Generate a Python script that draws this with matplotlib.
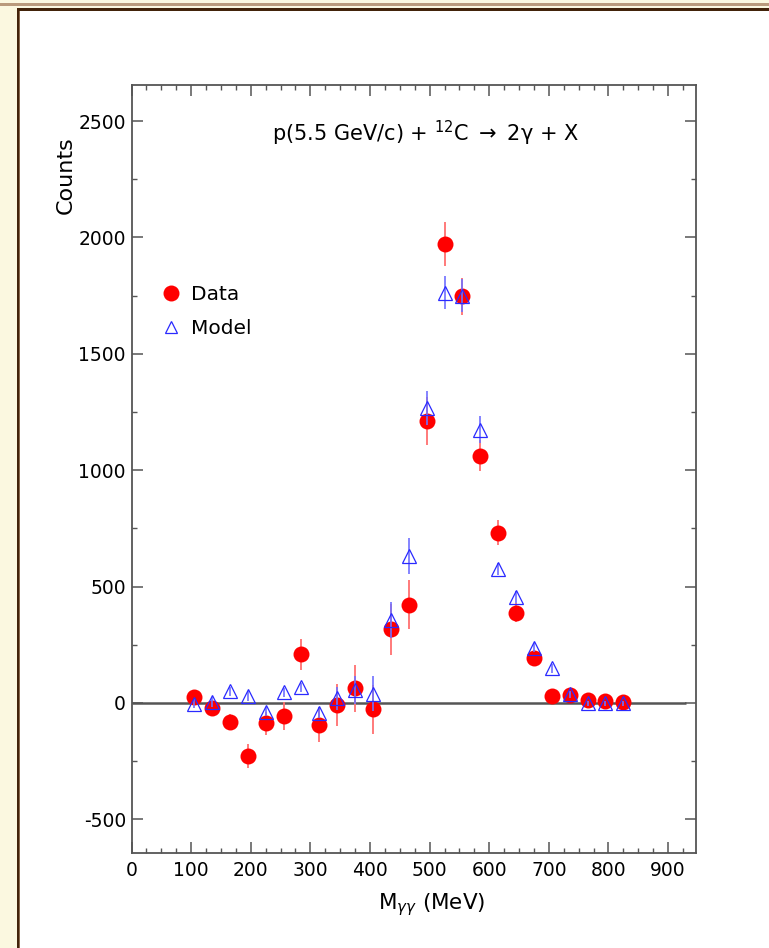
import matplotlib.pyplot as plt
from matplotlib.patches import Rectangle
from matplotlib.ticker import MultipleLocator

# invariant mass bins (MeV)
mass = [105, 135, 165, 195, 225, 255, 285, 315, 345, 375, 405, 435, 465,
        495, 525, 555, 585, 615, 645, 675, 705, 735, 765, 795, 825]

data_counts = [24, -23, -83, -228, -88, -55, 209, -95, -9, 63, -27, 317, 421,
               1212, 1972, 1747, 1062, 732, 388, 192, 31, 34, 13, 6, 3]
data_err = [30, 30, 35, 50, 50, 60, 66, 75, 90, 100, 105, 110, 105,
            103, 93, 80, 67, 53, 40, 30, 20, 20, 15, 15, 15]

model_counts = [-4, 4, 49, 30, -37, 46, 67, -42, 20, 56, 39, 356, 631,
                1267, 1763, 1750, 1174, 575, 454, 238, 149, 37, -2, -2, -2]
model_err = [20, 20, 20, 20, 20, 20, 20, 25, 50, 60, 75, 76, 76,
             75, 72, 70, 57, 25, 25, 20, 20, 15, 10, 10, 10]

plt.rcParams['font.family'] = 'DejaVu Sans'
plt.rcParams['mathtext.fontset'] = 'dejavusans'
plt.rcParams['axes.unicode_minus'] = False

W, H = 769, 948
fig = plt.figure(figsize=(W / 100, H / 100), dpi=100)


def px_rect(x0, y0, x1, y1, color):
    # rectangle given in pixel coords (origin top-left)
    fig.add_artist(Rectangle((x0 / W, 1 - y1 / H), (x1 - x0) / W, (y1 - y0) / H,
                             transform=fig.transFigure, color=color, lw=0, zorder=-10))


# page frame
px_rect(0, 0, W, H, '#fbf8e0')
px_rect(19, 11, W, H, 'white')
px_rect(0, 3, W, 6, '#b99a7c')
px_rect(17, 8, W, 11, '#42230a')
px_rect(17, 8, 19, H, '#42230a')
px_rect(19, 11, 20, H, '#8a6a4e')

ax = fig.add_axes([131.5 / W, 1 - 853 / H, 564 / W, 768 / H])
ax.set_xlim(0, 946)
ax.set_ylim(-645, 2655)

ax.hlines(0, 0, 930, color='#555555', lw=1.8, zorder=1)

ax.errorbar(mass, data_counts, yerr=data_err, fmt='none', ecolor='#ff7070',
            elinewidth=1.3, zorder=2)
ax.plot(mass, data_counts, 'o', color='#ff0000', markersize=11.5,
        markeredgewidth=0, label='Data', zorder=3)
ax.errorbar(mass, model_counts, yerr=model_err, fmt='none', ecolor='#7070ff',
            elinewidth=1.2, zorder=4)
ax.plot(mass, model_counts, '^', markerfacecolor='none', markeredgecolor='#2a2aff',
        markersize=10.5, markeredgewidth=0.9, label='Model', zorder=5)

for s in ax.spines.values():
    s.set_color('#555555')
    s.set_linewidth(1.3)

ax.xaxis.set_major_locator(MultipleLocator(100))
ax.xaxis.set_minor_locator(MultipleLocator(25))
ax.yaxis.set_major_locator(MultipleLocator(500))
ax.yaxis.set_minor_locator(MultipleLocator(250))
ax.tick_params(which='both', direction='in', top=True, right=True, color='#555555')
ax.tick_params(which='major', length=8, width=1.1, labelsize=13.5)
ax.tick_params(which='minor', length=3.8, width=1.0)
ax.tick_params(axis='x', pad=6)
ax.tick_params(axis='y', pad=4)

ax.text(0.521, 0.9375, r'p(5.5 GeV/c) + $^{12}$C $\rightarrow$ 2$\mathrm{\gamma}$ + X',
        transform=ax.transAxes, ha='center', va='center', fontsize=15)

leg = ax.legend(loc='center left', bbox_to_anchor=(0.0518, 0.705), frameon=False,
                fontsize=14.5, handlelength=1.0, handletextpad=0.5,
                labelspacing=0.77, borderpad=0, borderaxespad=0)
leg.legend_handles[1].set_markersize(8.5)

fig.text(66 / W, 1 - 175 / H, 'Counts', rotation=90, ha='center', va='center',
         fontsize=16)
fig.text(432 / W, 1 - 905 / H, r'M$_{\gamma\gamma}$ (MeV)', ha='center',
         va='center', fontsize=15.5)

fig.savefig('out.png', dpi=100)
